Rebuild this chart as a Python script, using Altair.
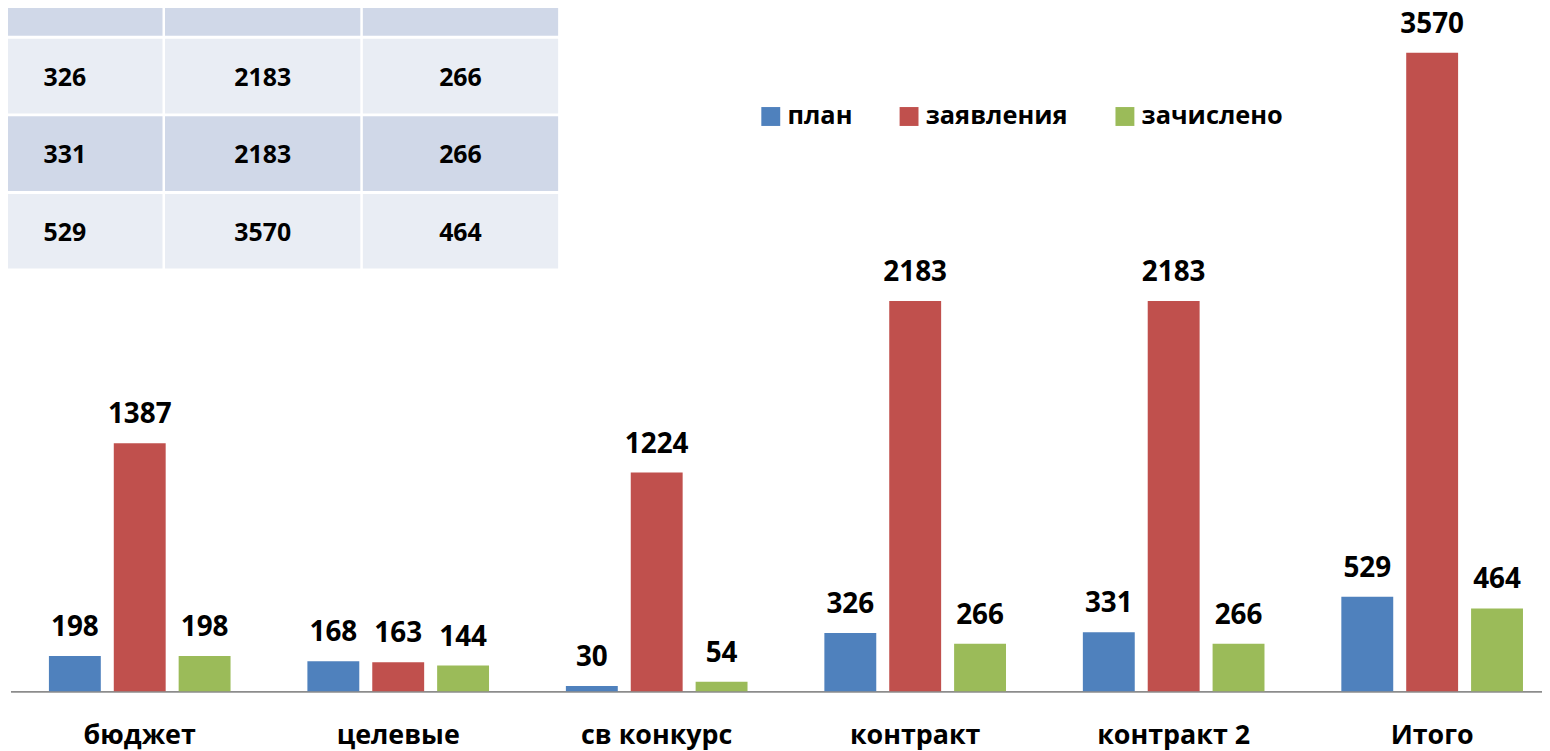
import altair as alt
import pandas as pd

# ---- data ----
categories = ["бюджет", "целевые", "св конкурс", "контракт", "контракт 2", "Итого"]
series = ["план", "заявления", "зачислено"]
plan = [198, 168, 30, 326, 331, 529]
applications = [1387, 163, 1224, 2183, 2183, 3570]
enrolled = [198, 144, 54, 266, 266, 464]
colors = ["#4F81BD", "#C0504D", "#9BBB59"]

# table (top-left) shows the last four categories
table_categories = categories[2:]

FONT = "Open Sans"

# ---- build tables ----
rows = []
for i, c in enumerate(categories):
    for s, vals in zip(series, [plan, applications, enrolled]):
        rows.append({"cat": c, "series": s, "value": vals[i]})
df = pd.DataFrame(rows)

trows = []
for r, c in enumerate(table_categories):
    i = categories.index(c)
    for k, vals in enumerate([plan, applications, enrolled]):
        trows.append({"row": r, "col": k, "text": str(vals[i])})
tdf = pd.DataFrame(trows)

# ---- table layer ----
tx = alt.X("col:O", axis=None,
           scale=alt.Scale(range=[-41, 553], paddingInner=0.0127, paddingOuter=0))
ty = alt.Y("row:O", axis=None,
           scale=alt.Scale(range=[-49, 260], paddingInner=0.0385, paddingOuter=0))

table_rect = alt.Chart(tdf).mark_rect().encode(
    x=tx, y=ty,
    color=alt.condition(alt.datum.row % 2 == 0, alt.value("#D0D8E8"), alt.value("#E9EDF4")),
)
table_text = alt.Chart(tdf).mark_text(
    font=FONT, fontSize=25, fontWeight="bold", color="black",
    align="center", baseline="middle", dy=1.5,
).encode(x=tx, y=ty, text="text:N")

table = alt.layer(table_rect, table_text)

# ---- bar layer ----
xs = alt.X(
    "cat:N", sort=categories, title=None,
    scale=alt.Scale(range=[2.5, 1561.5], paddingInner=0, paddingOuter=0),
    axis=alt.Axis(
        labelFont=FONT, labelFontSize=27, labelFontWeight="bold", labelColor="black",
        labelAngle=0, labelBaseline="alphabetic", labelPadding=52, labelLimit=500,
        ticks=False, tickSize=0, domainColor="#8C8C8C", domainWidth=2, grid=False,
    ),
)
xo = alt.XOffset("series:N", sort=series,
                 scale=alt.Scale(paddingInner=0.2, paddingOuter=0.5923))
ys = alt.Y("value:Q", axis=None, scale=alt.Scale(domain=[0, 3810], nice=False, zero=True))

bars = alt.Chart(df).mark_bar().encode(
    x=xs, xOffset=xo, y=ys,
    color=alt.Color(
        "series:N", sort=series,
        scale=alt.Scale(domain=series, range=colors),
        legend=alt.Legend(
            title=None, orient="none", legendX=754, legendY=94,
            direction="horizontal", symbolType="square", symbolSize=361,
            symbolStrokeWidth=0, symbolOpacity=1,
            labelFont=FONT, labelFontSize=25.5, labelFontWeight="bold", labelColor="black",
            labelOffset=4, columnPadding=44, padding=0,
        ),
    ),
)
bar_labels = alt.Chart(df).mark_text(
    font=FONT, fontSize=28, fontWeight="bold", color="black",
    align="center", baseline="alphabetic", dy=-20,
).encode(x=xs, xOffset=xo, y=ys, text="value:Q")

main = alt.layer(bars, bar_labels)

chart = alt.layer(table, main).resolve_scale(
    x="independent", y="independent"
).properties(
    width=1542, height=685,
    padding={"left": 0, "top": 0, "right": 0, "bottom": 58},
    autosize=alt.AutoSizeParams(type="none"),
    background="white",
).configure_view(stroke=None)

chart.save("out.html", embed_options={"renderer": "svg", "actions": False})
